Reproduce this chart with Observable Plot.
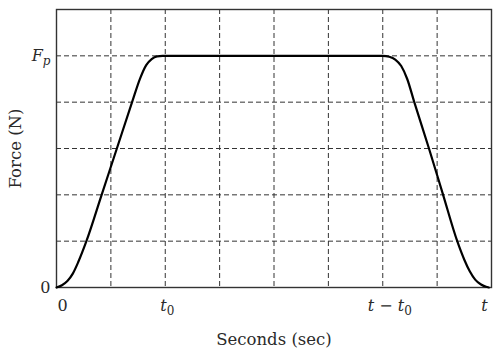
<!DOCTYPE html>
<html>
<head>
<meta charset="utf-8">
<script src="https://cdn.jsdelivr.net/npm/d3@7"></script>
<script src="https://cdn.jsdelivr.net/npm/@observablehq/plot@0.6"></script>
<style>
  html, body { margin: 0; padding: 0; background: #fff; }
  svg { font-family: "DejaVu Serif", serif; }
</style>
</head>
<body>
<div id="chart"></div>
<script>
// Data
const time  = [0, 0.1, 0.2, 0.3, 0.4, 0.55, 0.83, 1.11, 1.39, 1.54, 1.65, 1.75, 1.85, 1.95, 2.1,
               5.9, 6.0, 6.12, 6.23, 6.34, 6.45, 6.58, 6.85, 7.11, 7.37, 7.5, 7.6, 7.7, 7.8, 7.9, 7.95];
const force = [0, 0.05, 0.14, 0.3, 0.55, 1.0, 2.0, 3.0, 4.0, 4.52, 4.8, 4.93, 4.99, 5.0, 5.0,
               5.0, 5.0, 4.98, 4.92, 4.78, 4.5, 4.0, 3.0, 2.0, 1.0, 0.6, 0.35, 0.17, 0.07, 0.015, 0];

const xTickValues = [0, 2, 6, 8];
const xTickLabels = ["0", "t0", "t-t0", "t"];
const yTickValues = [0, 5];
const yTickLabels = ["0", "Fp"];
const xGrid = [1, 2, 3, 4, 5, 6, 7];
const yGrid = [1, 2, 3, 4, 5];

const data = time.map((t, i) => ({t, f: force[i]}));

const chart = Plot.plot({
  width: 500,
  height: 354,
  marginLeft: 56,
  marginRight: 9,
  marginTop: 9,
  marginBottom: 67,
  style: {fontFamily: "DejaVu Serif, serif", background: "#fff", color: "#2a2a2a"},
  x: {domain: [0, 8]},
  y: {domain: [0, 6]},
  marks: [
    Plot.gridX(xGrid, {stroke: "#333", strokeOpacity: 1, strokeWidth: 1, strokeDasharray: "5,3"}),
    Plot.gridY(yGrid, {stroke: "#333", strokeOpacity: 1, strokeWidth: 1, strokeDasharray: "5,3"}),
    Plot.frame({stroke: "#333", strokeWidth: 1.4}),
    Plot.line(data, {x: "t", y: "f", curve: "monotone-x", stroke: "#000", strokeWidth: 2.2}),
    Plot.axisX(xTickValues, {
      tickSize: 0, tickPadding: 12, fontSize: 16,
      tickFormat: (d) => xTickLabels[xTickValues.indexOf(d)],
      label: "Seconds (sec)", labelAnchor: "center", labelArrow: "none", labelOffset: 57
    }),
    Plot.axisY(yTickValues, {
      tickSize: 0, tickPadding: 6, fontSize: 16,
      tickFormat: (d) => yTickLabels[yTickValues.indexOf(d)],
      label: "Force (N)", labelAnchor: "center", labelArrow: "none", labelOffset: 47
    })
  ]
});

const sub = (s) => `<tspan dy="4" font-size="12">${s}</tspan>`;
const it = (s) => `<tspan font-style="italic">${s}</tspan>`;
const rich = {
  "t0": it("t") + sub("0"),
  "t-t0": it("t") + " − " + it("t") + sub("0"),
  "t": it("t"),
  "Fp": it("F") + `<tspan dy="4" font-size="12" font-style="italic">p</tspan>`
};
// small horizontal nudges of the x tick labels, as in the reference
const xLabelShift = {"0": 6, "t0": 2, "t-t0": 7, "t": -7};
d3.select(chart).selectAll("[aria-label='x-axis tick label'] text").each(function() {
  const k = this.textContent;
  if (xLabelShift[k] !== undefined) d3.select(this).attr("dx", xLabelShift[k]);
});
d3.select(chart).selectAll("text").each(function() {
  const txt = this.textContent;
  if (rich[txt]) this.innerHTML = rich[txt];
});
d3.select(chart).selectAll("[aria-label='x-axis label'], [aria-label='y-axis label']").attr("font-size", 16.5);
document.getElementById("chart").appendChild(chart);
</script>
</body>
</html>
